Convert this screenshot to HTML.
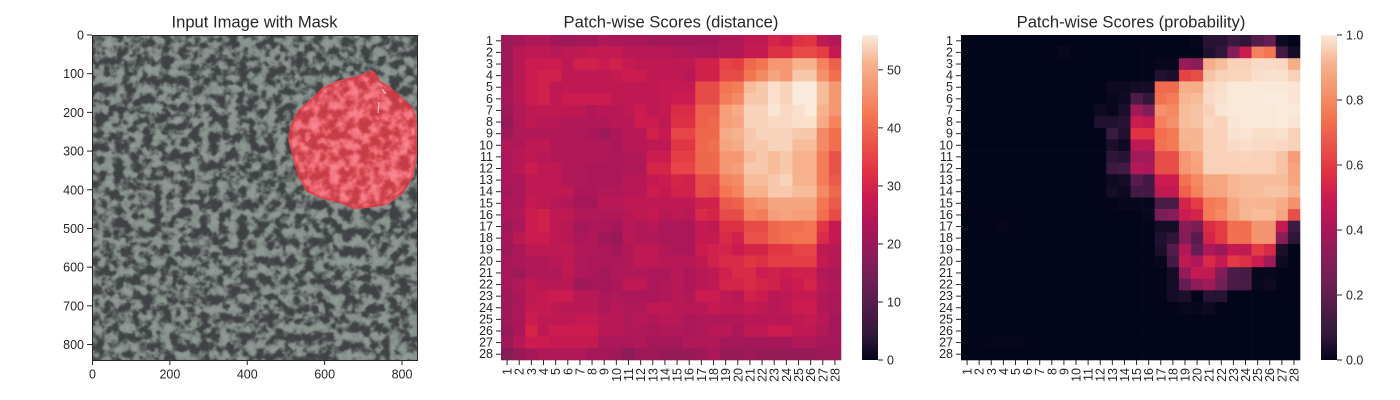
<!DOCTYPE html>
<html>
<head>
<meta charset="utf-8">
<title>Patch-wise Scores</title>
<style>
html,body{margin:0;padding:0;background:#fff;width:1400px;height:400px;overflow:hidden}
svg{display:block}
text{font-family:"Liberation Sans",Arial,sans-serif;fill:#262626}
</style>
</head>
<body>
<svg id="fig" xmlns="http://www.w3.org/2000/svg" width="1400" height="400" viewBox="0 0 1400 400">
<defs>
<filter id="speckle" x="0" y="0" width="100%" height="100%" color-interpolation-filters="sRGB">
<feTurbulence type="fractalNoise" baseFrequency="0.105" numOctaves="3" seed="11"/>
<feColorMatrix type="matrix" values="1 0 0 0 0 1 0 0 0 0 1 0 0 0 0 0 0 0 0 1"/>
<feComponentTransfer>
<feFuncR type="table" tableValues=".25 .25 .25 .25 .27 .40 .52 .55 .57 .58 .58"/>
<feFuncG type="table" tableValues=".26 .26 .26 .26 .28 .43 .56 .59 .61 .62 .62"/>
<feFuncB type="table" tableValues=".27 .27 .27 .27 .29 .42 .54 .57 .59 .60 .60"/>
</feComponentTransfer>
<feGaussianBlur stdDeviation="0.5"/>
</filter>
<filter id="petal-speckle" x="0" y="0" width="100%" height="100%" color-interpolation-filters="sRGB">
<feTurbulence type="fractalNoise" baseFrequency="0.1" numOctaves="3" seed="5"/>
<feColorMatrix type="matrix" values="1 0 0 0 0 1 0 0 0 0 1 0 0 0 0 0 0 0 0 1"/>
<feComponentTransfer>
<feFuncR type="table" tableValues=".78 .78 .78 .78 .80 .88 .94 .96 .97 .97 .97"/>
<feFuncG type="table" tableValues=".24 .24 .24 .24 .26 .34 .44 .48 .52 .54 .54"/>
<feFuncB type="table" tableValues=".28 .28 .28 .28 .30 .38 .48 .53 .57 .58 .58"/>
</feComponentTransfer>
<feGaussianBlur stdDeviation="0.5"/>
</filter>
<clipPath id="image-clip"><rect x="92.5" y="35" width="325" height="325"/></clipPath>
<clipPath id="petal-clip"><polygon points="371.7,70 377.3,75 379.3,80 390,86.7 403.3,98.3 413.3,108.3 416.7,120 417.3,153 413.3,176.7 403.3,193.3 386.7,205 373.3,207.3 355,209.3 340,203.3 320,198.3 306.7,191.7 298.3,176.7 293.3,160 288.3,140 290,126.7 298.3,110 311.7,98.3 323.3,86.7 340,80 356.7,76 368.3,71.7"/></clipPath>
<linearGradient id="rocket-gradient" x1="0" y1="1" x2="0" y2="0"></linearGradient>
</defs>

<g>
<text x="254.5" y="27.5" font-size="16.6" text-anchor="middle">Input Image with Mask</text>
<g clip-path="url(#image-clip)">
<rect x="92" y="35" width="326" height="326" fill="#7f8985" filter="url(#speckle)"/>
<g clip-path="url(#petal-clip)">
<rect x="285" y="66" width="135" height="146" fill="#e5545f" filter="url(#petal-speckle)"/>
<polygon points="371.7,70 377.3,75 379.3,80 390,86.7 403.3,98.3 413.3,108.3 416.7,120 417.3,153 413.3,176.7 403.3,193.3 386.7,205 373.3,207.3 355,209.3 340,203.3 320,198.3 306.7,191.7 298.3,176.7 293.3,160 288.3,140 290,126.7 298.3,110 311.7,98.3 323.3,86.7 340,80 356.7,76 368.3,71.7" fill="none" stroke="#cf2f3a" stroke-width="5" opacity=".5"/>
<path d="M382 89L386 94M379 102L378 113" stroke="#ffe9ea" stroke-width="1.2" fill="none" opacity=".7"/>
</g>
</g>
<rect x="92.5" y="35.5" width="325" height="325" fill="none" stroke="#262626" stroke-width="1"/>
<g id="image-axes"></g>
</g>

<g id="distance-panel">
<text x="671" y="27.5" font-size="16.6" text-anchor="middle">Patch-wise Scores (distance)</text>
</g>
<g id="probability-panel">
<text x="1131" y="27.5" font-size="16.6" text-anchor="middle">Patch-wise Scores (probability)</text>
</g>
</svg>

<script>
const patchLabels = ['1','2','3','4','5','6','7','8','9','10','11','12','13','14','15','16','17','18','19','20','21','22','23','24','25','26','27','28'];
const imageTicksX = [0,200,400,600,800];
const imageTicksY = [0,100,200,300,400,500,600,700,800];
const imageSize = 840;
const distanceTicks = [0,10,20,30,40,50];
const distanceTickLabels = ['0','10','20','30','40','50'];
const distanceMax = 56;
const probabilityTicks = [0,0.2,0.4,0.6,0.8,1];
const probabilityTickLabels = ['0.0','0.2','0.4','0.6','0.8','1.0'];
const probabilityMax = 1;

const distanceScores = [
[21,22,24,24,22,21,22,22,24,23,23,23,22,22,22,22,22,22,24,24,26,26,30,28,32,33,26,24],
[21,25,26,26,25,26,26,27,27,27,25,25,25,25,24,24,23,23,24,24,27,27,32,32,36,36,34,27],
[21,25,28,28,28,26,29,29,28,29,27,26,26,26,26,26,29,29,35,34,40,42,47,47,51,51,44,39],
[21,25,28,29,29,26,26,26,26,27,28,28,26,26,26,25,29,29,36,36,42,45,49,47,53,53,46,41],
[22,25,28,29,26,26,26,26,26,26,26,26,26,27,27,27,36,36,42,43,52,53,55,54,56,56,52,47],
[22,25,28,29,26,28,28,28,28,26,26,26,26,27,28,28,36,36,43,45,53,53,55,54,56,56,52,47],
[21,24,26,26,26,26,26,24,25,25,26,28,26,27,31,31,39,39,48,50,54,54,55.5,54.5,55,56,51,47],
[20,24,26,25,25,24,24,24,24,25,25,28,28,26,32,32,39,40,48,49,54,54,54.5,54.5,55,55,50,44],
[21,24,24,24,24,24,24,23,21,23,25,25,29,27,35,35,40,40,50,51,53,54,54,54,53,53,45,41],
[24,24,26,26,24,24,24,24,24,23,25,25,26,26,33,33,40,41,49,50,53,53,54,54,52,52,45,41],
[23,25,26,25,24,24,24,24,24,23,24,24,28,28,34,34,40,40,47,47,52,53,52,53,51,51,43,37],
[23,25,28,26,26,24,24,23,23,23,24,24,30,30,35,35,40,40,47,48,53,53,52,53,51,51,43,37],
[23,23,26,26,26,24,24,23,23,23,25,25,27,28,30,29,36,36,44,45,52,52,53,54,51,51,43,38],
[22,23,26,26,26,26,23,23,24,24,25,25,28,27,29,29,36,35,42,44,51,51,53,53,52,52,45,40],
[23,23,27,26,25,24,22,22,25,25,26,26,26,26,26,26,29,29,38,39,45,46,49,49,49,49,42,38],
[23,24,28,29,26,26,24,24,24,24,25,26,27,25,26,25,31,30,36,36,44,43,48,49,48,48,41,36],
[21,23,28,29,26,25,22,23,23,22,25,24,25,23,23,23,27,26,32,32,36,36,40,41,41,42,33,27],
[22,26,28,28,26,25,23,24,21,20,25,24,24,23,23,23,27,27,31,29,37,37,40,41,42,42,31,27],
[21,23,26,26,26,26,24,24,23,22,24,26,26,24,23,23,28,29,30,28,30,30,33,33,35,35,26,25],
[22,23,24,24,25,26,24,23,23,23,24,26,26,25,25,25,26,29,31,31,33,32,34,34,34,34,27,25],
[22,21,24,24,24,26,24,23,22,24,24,24,23,23,25,23,25,26,29,31,31,28,29,28,29,29,24,23],
[22,24,26,25,25,25,21,22,22,23,26,26,23,24,25,23,25,26,30,30,31,30,29,27,28,30,25,24],
[21,23,26,27,28,28,25,25,23,24,23,23,23,24,25,24,28,28,26,25,29,28,25,26,27,27,24,23],
[21,23,27,27,26,25,25,25,23,25,24,24,26,26,25,25,25,27,26,26,27,26,25,26,28,28,24,23],
[21,23,28,26,26,26,27,27,25,25,24,25,24,25,25,23,24,24,24,24,25,25,25,25,26,27,25,22],
[20,23,30,26,28,28,28,28,25,25,24,24,23,24,24,23,24,25,25,23,26,26,28,28,26,26,24,22],
[21,25,28,28,27,27,27,27,23,23,23,24,22,22,22,24,24,24,22,22,22,22,22,22,24,24,22,22],
[17,20,22,24,24,24,24,22,22,21,18,21,21,20,20,20,21,23,20,20,21,20,20,20,20,20,21,21]
];

const probabilityScores = [
[0,0,0,0,0,0,0,0,0,0,0,0,0,0,0,0,0,0,0,.01,.06,.06,.1,.07,.17,.22,.02,0],
[0,0,0,0,0,0,0,0,.01,0,0,0,0,0,0,0,0,0,0,0,.05,.07,.3,.5,.78,.75,.12,.03],
[0,0,0,0,0,0,0,0,0,0,0,0,0,0,0,0,.01,.01,.36,.32,.9,.93,.96,.96,.975,.975,.97,.9],
[0,0,0,0,0,0,0,0,0,0,0,0,0,0,0,0,.05,.04,.62,.65,.94,.96,.965,.965,.98,.985,.985,.96],
[0,0,0,0,0,0,0,0,0,0,0,0,.02,.015,.03,.03,.72,.72,.9,.9,.97,.98,.995,.995,.995,.995,.995,.99],
[0,0,0,0,0,0,0,0,0,0,0,0,.01,.02,.15,.08,.74,.77,.92,.93,.975,.985,.995,.995,.995,1,1,.99],
[0,0,0,0,0,0,0,0,0,0,0,.02,.01,.04,.38,.3,.82,.8,.93,.94,.96,.99,.995,.995,.995,.995,1,.995],
[0,0,0,0,0,0,0,0,0,0,0,.05,.05,.06,.5,.47,.78,.82,.93,.94,.97,.96,.99,.995,.995,.995,1,.99],
[0,0,0,0,0,0,0,0,0,0,0,0,.1,.05,.58,.58,.73,.76,.92,.92,.96,.96,.985,.99,.98,.98,.985,.96],
[0,0,0,0,0,0,0,0,0,0,0,0,.04,.02,.46,.46,.74,.76,.91,.92,.96,.96,.975,.98,.975,.975,.97,.96],
[0,0,0,0,0,0,0,0,0,0,0,0,.07,.06,.38,.38,.65,.65,.84,.88,.96,.96,.96,.965,.96,.96,.94,.85],
[0,0,0,0,0,0,0,0,0,0,0,0,.1,.12,.44,.42,.65,.65,.84,.87,.96,.96,.96,.96,.96,.96,.94,.87],
[0,0,0,0,0,0,0,0,0,0,0,0,.02,.03,.18,.12,.5,.5,.74,.8,.88,.88,.92,.93,.93,.93,.93,.88],
[0,0,0,0,0,0,0,0,0,0,0,0,.03,.015,.12,.12,.47,.47,.7,.78,.87,.88,.92,.93,.93,.94,.94,.91],
[0,0,0,0,0,0,0,0,0,0,0,0,0,.01,.01,.01,.14,.14,.53,.6,.76,.78,.88,.92,.92,.92,.89,.82],
[0,0,0,0,0,0,0,0,0,0,0,0,0,0,0,.01,.28,.31,.5,.53,.76,.8,.87,.92,.93,.93,.88,.65],
[0,0,0,.005,0,0,0,0,0,0,0,0,0,0,0,0,.03,.03,.32,.27,.56,.6,.73,.73,.83,.83,.48,.1],
[0,0,0,0,0,0,0,0,0,0,0,0,0,0,0,0,.05,.07,.3,.18,.53,.6,.74,.73,.83,.83,.32,.07],
[0,0,0,0,0,0,0,0,0,0,0,0,0,0,0,0,.04,.17,.43,.22,.42,.37,.48,.47,.6,.55,.04,0],
[0,0,0,0,0,0,0,0,0,0,0,0,0,0,0,0,.01,.12,.47,.42,.55,.48,.6,.57,.5,.38,.02,0],
[0,0,0,0,0,0,0,0,0,0,0,0,0,0,0,0,0,.03,.35,.48,.47,.3,.15,.13,.01,.01,0,0],
[0,0,0,0,0,0,0,0,0,0,0,0,0,0,0,0,0,.03,.22,.33,.38,.25,.14,.13,.01,.02,0,0],
[0,0,0,0,0,0,0,0,0,0,0,0,0,0,0,0,0,.03,.04,0,.06,.06,0,0,0,0,0,0],
[0,0,0,0,0,0,0,0,0,0,0,0,0,0,0,0,0,0,.01,.01,.02,0,0,0,0,0,0,0],
[0,0,0,0,0,0,0,0,0,0,0,0,0,0,0,0,0,0,0,0,0,0,0,0,0,0,0,0],
[0,0,0,0,0,0,0,0,0,0,0,0,0,0,0,0,0,0,0,0,0,0,0,0,0,0,0,0],
[0,0,.005,.005,.005,0,0,0,0,0,0,0,0,0,0,0,0,0,0,0,0,0,0,0,0,0,0,0],
[0,0,0,0,0,0,0,0,0,0,0,0,0,0,0,0,0,0,0,0,0,0,0,0,0,0,0,0]
];

const rocketPositions = [0,0.0833,0.25,0.4167,0.5,0.5833,0.75,0.9167,1];
const rocketColors = [[3,5,26],[53,25,62],[112,31,87],[173,23,89],[203,27,79],[225,51,66],[243,118,81],[246,180,143],[250,235,221]];

const SVGNS = 'http://www.w3.org/2000/svg';
const INK = '#262626';

function rocket(t) {
  const v = Math.max(0, Math.min(1, t));
  let i = 0;
  while (i < rocketPositions.length - 2 && v > rocketPositions[i + 1]) i++;
  const f = (v - rocketPositions[i]) / (rocketPositions[i + 1] - rocketPositions[i]);
  const a = rocketColors[i], b = rocketColors[i + 1];
  return 'rgb(' + [0, 1, 2].map(k => Math.round(a[k] + (b[k] - a[k]) * f)).join(',') + ')';
}

function make(tag, parent, attrs, content) {
  const el = document.createElementNS(SVGNS, tag);
  for (const k in attrs) el.setAttribute(k, attrs[k]);
  if (content !== undefined) el.textContent = content;
  parent.appendChild(el);
  return el;
}

function tickLine(parent, x1, y1, x2, y2) {
  const el = make('line', parent, {x1: x1, y1: y1, x2: x2, y2: y2, stroke: INK, 'stroke-width': 1});
  
  
  return el;
}

function tickText(parent, x, y, anchor, label, transform) {
  const el = make('text', parent, {x: x, y: y, 'font-size': 12.5, 'text-anchor': anchor}, label);
  if (transform) el.setAttribute('transform', transform);
  
  
  return el;
}

/* colour bar gradient */
const gradient = document.getElementById('rocket-gradient');
rocketPositions.forEach((p, i) => {
  const stop = make('stop', gradient, {offset: p, 'stop-color': rocket(p)});
  
  
});

/* image axes */
const imageAxes = document.getElementById('image-axes');
const imageLeft = 92.5, imageTop = 35, imageSpan = 325;
function imageX(v) { return imageLeft + v / imageSize * imageSpan; }
function imageY(v) { return imageTop + v / imageSize * imageSpan; }
imageTicksX.forEach(v => {
  const x = imageX(v);
  tickLine(imageAxes, x, 360, x, 365);
  tickText(imageAxes, x, 378.5, 'middle', String(v));
});
imageTicksY.forEach(v => {
  const y = imageY(v);
  tickLine(imageAxes, 87, y, 92, y);
  tickText(imageAxes, 84, y + 4.5, 'end', String(v));
});

/* heatmap */
function drawHeatmap(panel, scores, maxValue, ticks, tickLabels, left, right, barLeft) {
  const top = 35, bottom = 360;
  const n = patchLabels.length;
  const cellW = (right - left) / n, cellH = (bottom - top) / n;
  const xScale = c => left + c * cellW;
  const yScale = r => top + r * cellH;
  const colour = v => rocket(v / maxValue);
  const valueY = v => bottom - v / maxValue * (bottom - top);

  scores.forEach((row, r) => {
    row.forEach((value, c) => {
      const x0 = xScale(c), y0 = yScale(r);
      const cell = make('rect', panel, {x: x0, y: y0, width: cellW + 0.3, height: cellH + 0.3, fill: colour(value)});
      
      
    });
  });

  patchLabels.forEach((label, i) => {
    const cx = xScale(i + 0.5), cy = yScale(i + 0.5);
    tickLine(panel, cx, bottom, cx, bottom + 5);
    tickText(panel, cx + 4.5, bottom + 8, 'end', label, 'rotate(-90 ' + (cx + 4.5) + ' ' + (bottom + 8) + ')');
    tickLine(panel, left - 5, cy, left, cy);
    tickText(panel, left - 8, cy + 4, 'end', label);
  });

  const bar = make('rect', panel, {x: barLeft, y: top, width: 16, height: bottom - top, fill: 'url(#rocket-gradient)'});
  
  
  ticks.forEach((t, i) => {
    const y = valueY(t);
    tickLine(panel, barLeft + 16, y, barLeft + 21, y);
    tickText(panel, barLeft + 25, y + 4.5, 'start', tickLabels[i]);
  });
}

drawHeatmap(document.getElementById('distance-panel'), distanceScores, distanceMax, distanceTicks, distanceTickLabels, 501, 841, 862);
drawHeatmap(document.getElementById('probability-panel'), probabilityScores, probabilityMax, probabilityTicks, probabilityTickLabels, 961, 1300, 1321);
</script>
</body>
</html>
